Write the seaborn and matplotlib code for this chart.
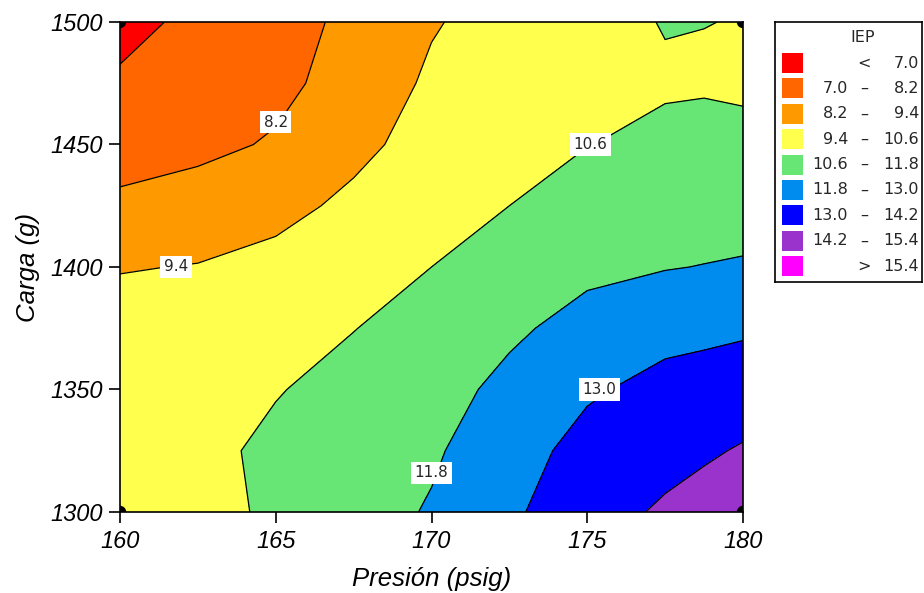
import numpy as np
import pandas as pd
import matplotlib
matplotlib.use("Agg")
import matplotlib.pyplot as plt
from matplotlib.patches import Rectangle
import seaborn as sns

# --- datos ---
presion = [160.0, 162.5, 165.0, 167.5, 170.0, 172.5, 175.0, 177.5, 178.75, 180.0]
carga = [1300, 1325, 1350, 1375, 1400, 1425, 1450, 1475, 1500]

# IEP por columna de presion (de carga 1300 a 1500)
iep_160 = [10.20, 10.20, 10.15, 9.95, 9.33, 8.40, 7.75, 7.18, 6.60]
iep_162 = [10.30, 10.35, 10.25, 9.95, 9.45, 8.65, 7.95, 7.55, 7.30]
iep_165 = [10.75, 10.80, 10.55, 10.15, 9.75, 9.05, 8.30, 7.95, 7.85]
iep_167 = [11.30, 11.15, 10.90, 10.58, 10.20, 9.65, 9.10, 8.60, 8.40]
iep_170 = [11.90, 11.65, 11.35, 10.95, 10.60, 10.20, 9.85, 9.60, 9.30]
iep_172 = [12.80, 12.50, 12.10, 11.60, 11.10, 10.60, 10.20, 10.00, 9.90]
iep_175 = [13.75, 13.40, 12.85, 12.20, 11.55, 11.05, 10.58, 10.30, 10.30]
iep_177 = [14.35, 13.85, 13.35, 12.65, 11.75, 11.10, 10.80, 10.50, 10.64]
iep_178 = [14.65, 14.05, 13.45, 12.75, 11.83, 11.25, 10.85, 10.52, 10.61]
iep_180 = [14.90, 14.30, 13.60, 12.85, 11.90, 11.35, 10.85, 10.45, 10.58]

niveles = [7.0, 8.2, 9.4, 10.6, 11.8, 13.0, 14.2, 15.4]
colores = ["#FF0000", "#FF6600", "#FF9900", "#FFFF4D", "#68E675",
           "#008CEE", "#0000FF", "#9933CC", "#FF00FF"]

# etiquetas de contorno: (valor, presion, carga)
etiquetas = [("8.2", 165.0, 1459), ("9.4", 161.8, 1400), ("10.6", 175.1, 1450),
             ("11.8", 170.0, 1316), ("13.0", 175.4, 1350)]

# puntos de diseno (esquinas)
puntos = pd.DataFrame({"presion": [160, 160, 180, 180],
                       "carga": [1300, 1500, 1300, 1500]})

Z = np.array([iep_160, iep_162, iep_165, iep_167, iep_170,
              iep_172, iep_175, iep_177, iep_178, iep_180]).T
X, Y = np.meshgrid(presion, carga)

sns.set_style("ticks")
plt.rcParams["font.family"] = ["Liberation Sans", "DejaVu Sans"]

fig = plt.figure(figsize=(9.24, 5.93), dpi=100)
ax = fig.add_axes([120 / 924, 1 - 512 / 593, 623 / 924, 490 / 593])

bordes = [-100] + niveles + [100]
ax.contourf(X, Y, Z, levels=bordes, colors=colores)
ax.contour(X, Y, Z, levels=niveles, colors="black", linewidths=0.9)

for txt, px, py in etiquetas:
    ax.text(px, py, txt, ha="center", va="center", fontsize=11,
            family="DejaVu Sans",
            bbox=dict(facecolor="white", edgecolor="none", pad=2.5))

sns.scatterplot(data=puntos, x="presion", y="carga", ax=ax, color="black",
                s=80, edgecolor="none", zorder=5, legend=False)

ax.set_xlim(160, 180)
ax.set_ylim(1300, 1500)
ax.set_xticks([160, 165, 170, 175, 180])
ax.set_yticks([1300, 1350, 1400, 1450, 1500])
for lab in ax.get_xticklabels() + ax.get_yticklabels():
    lab.set_fontstyle("italic")
ax.tick_params(direction="out", length=8, width=1.2, labelsize=17, colors="black")
ax.tick_params(axis="x", pad=5)
ax.tick_params(axis="y", pad=4)
ax.set_xlabel("Presión (psig)", fontsize=18.5, fontstyle="italic", labelpad=10, color="black")
ax.set_ylabel("Carga (g)", fontsize=18.5, fontstyle="italic", labelpad=8, color="black")
for sp in ax.spines.values():
    sp.set_visible(True)
    sp.set_color("black")
    sp.set_linewidth(1.2)

# leyenda dibujada a mano
lax = fig.add_axes([775 / 924, 1 - 282 / 593, 147 / 924, 260 / 593])
lax.set_xlim(0, 147)
lax.set_ylim(260, 0)
lax.set_xticks([])
lax.set_yticks([])
for sp in lax.spines.values():
    sp.set_color("black")
    sp.set_linewidth(1.2)
lax.text(88, 16, "IEP", ha="center", va="center", fontsize=11.5, family="DejaVu Sans")
limites = [None] + niveles + [None]
for i, c in enumerate(colores):
    yc = 41 + i * 25.4
    lax.add_patch(Rectangle((7, yc - 10), 21, 20, facecolor=c, edgecolor="none"))
    lo, hi = limites[i], limites[i + 1]
    if lo is None:
        lax.text(89, yc, "<", ha="center", va="center", fontsize=11.5, family="DejaVu Sans")
        lax.text(144, yc, f"{hi:.1f}", ha="right", va="center", fontsize=11.5, family="DejaVu Sans")
    elif hi is None:
        lax.text(89, yc, ">", ha="center", va="center", fontsize=11.5, family="DejaVu Sans")
        lax.text(144, yc, f"{lo:.1f}", ha="right", va="center", fontsize=11.5, family="DejaVu Sans")
    else:
        lax.text(73, yc, f"{lo:.1f}", ha="right", va="center", fontsize=11.5, family="DejaVu Sans")
        lax.text(89, yc, "–", ha="center", va="center", fontsize=11.5, family="DejaVu Sans")
        lax.text(144, yc, f"{hi:.1f}", ha="right", va="center", fontsize=11.5, family="DejaVu Sans")

fig.savefig("out.png", dpi=100)
